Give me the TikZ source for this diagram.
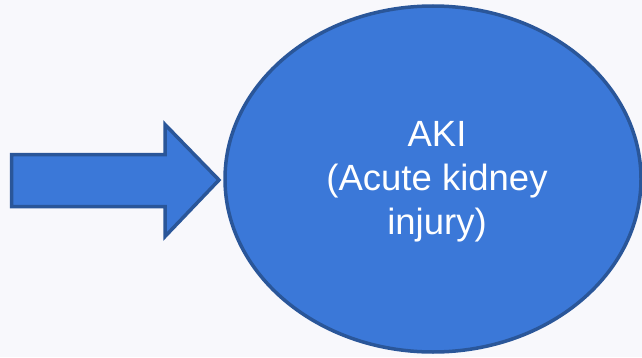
\documentclass[tikz,border=0pt]{standalone}
\usepackage{fontspec}
\setmainfont{Liberation Sans}
\usetikzlibrary{shapes.geometric}
\definecolor{bg}{HTML}{F8F8FC}
\definecolor{blueFill}{HTML}{3B78D8}
\definecolor{blueLine}{HTML}{2A5699}
\tikzset{
  bluesh/.style={fill=blueFill, draw=blueLine, line width=3.5pt, line join=miter},
}
\begin{document}
\begin{tikzpicture}[x=1pt,y=1pt]
\fill[bg] (0,0) rectangle (642,357);
\useasboundingbox (0,0) rectangle (642,357);
% ellipse
\node[bluesh, ellipse, minimum width=416pt, minimum height=346pt, inner sep=0pt] (aki) at (433,178) {};
% text
\node[text=white, font=\fontsize{36.5}{44}\selectfont, align=center, inner sep=0pt] (akitext) at (437,175) {AKI\\(Acute kidney\\injury)};
% arrow
\draw[bluesh] (11.5,202.5) -- (165,202.5) -- (165,232.5) -- (219,177) -- (165,120.5) -- (165,150.5) -- (11.5,150.5) -- cycle;
\coordinate (arrowtip) at (219,177);
\end{tikzpicture}
\end{document}
